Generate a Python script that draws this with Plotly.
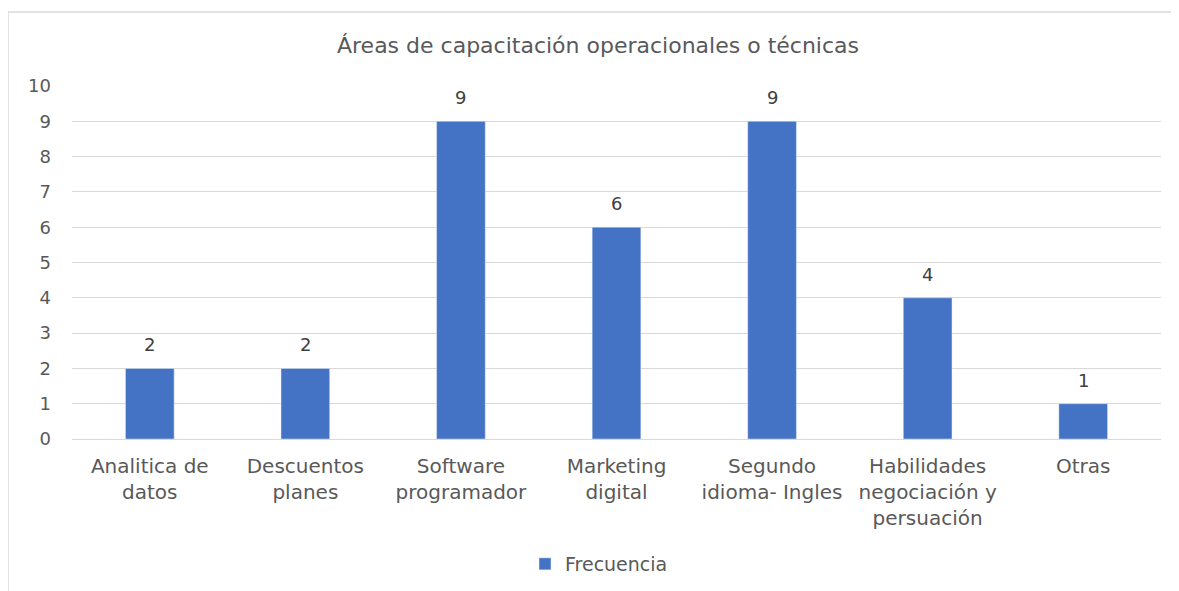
import plotly.graph_objects as go

# Chart data
categories = [
    "Analitica de<br>datos",
    "Descuentos<br>planes",
    "Software<br>programador",
    "Marketing<br>digital",
    "Segundo<br>idioma- Ingles",
    "Habilidades<br>negociación y<br>persuación",
    "Otras",
]
frecuencia = [2, 2, 9, 6, 9, 4, 1]
y_ticks = list(range(0, 11))

BAR_COLOR = "#4472C4"
TEXT = "#595959"
GRID = "#D9D9D9"
FONT = "DejaVu Sans, Verdana, sans-serif"

# page body has an 8px margin, so the figure is drawn 8px in from the window edge
OFF = 8
W, H = 1179 - OFF, 591 - OFF
L, R, T, B = 72 - OFF, 18, 86 - OFF, 591 - 439
plot_w, plot_h = W - L - R, H - T - B


def px_to_paper(px, py):
    # px, py are window pixel coordinates
    return (px - OFF - L) / plot_w, (591 - B - py) / plot_h


def px_to_container(px, py):
    return (px - OFF) / W, 1 - (py - OFF) / H


fig = go.Figure()
fig.add_trace(go.Bar(
    x=categories,
    y=frecuencia,
    name="Frecuencia",
    marker=dict(color=BAR_COLOR),
    width=0.313,
))

# Data labels sit well above each bar, as in the Excel original
for cat, val in zip(categories, frecuencia):
    fig.add_annotation(
        x=cat, y=val, text=str(val),
        showarrow=False, yanchor="bottom", yshift=11,
        font=dict(size=18, color="#404040", family=FONT),
    )

# Outer chart frame (only left and top edges visible in the crop)
x0, y0 = px_to_paper(8, 12)
x1, _ = px_to_paper(1200, 12)
_, y1 = px_to_paper(8, 610)
for sx0, sy0, sx1, sy1 in [(x0, y0, x1, y0), (x0, y0, x0, y1)]:
    fig.add_shape(type="line", xref="paper", yref="paper",
                  x0=sx0, y0=sy0, x1=sx1, y1=sy1,
                  line=dict(color="#D9D9D9", width=1.5))

tx, _ = px_to_paper(598, 45)
lx, ly = px_to_container(599, 564)
fig.update_layout(
    width=W, height=H,
    margin=dict(l=L, r=R, t=T, b=B, autoexpand=False),
    paper_bgcolor="white",
    plot_bgcolor="white",
    title=dict(
        text="Áreas de capacitación operacionales o técnicas",
        x=tx, xanchor="center", xref="paper",
        y=1 - (45 - OFF) / H, yanchor="middle",
        font=dict(size=22, color=TEXT, family=FONT),
    ),
    font=dict(family=FONT, color=TEXT),
    xaxis=dict(
        showgrid=False,
        showline=True, linecolor=GRID, linewidth=1,
        tickfont=dict(size=20, color=TEXT),
        ticks="",
        ticklabelstandoff=9,
    ),
    yaxis=dict(
        range=[0, 10],
        tickvals=y_ticks,
        showgrid=True, gridcolor=GRID, gridwidth=1,
        zeroline=False,
        tickfont=dict(size=18, color=TEXT),
        ticklabelstandoff=20,
    ),
    showlegend=True,
    legend=dict(
        orientation="h",
        xref="container", yref="container",
        x=lx, xanchor="center",
        y=ly, yanchor="middle",
        font=dict(size=19, color=TEXT),
    ),
    bargap=0.687,
)

fig.write_html("out.html")
